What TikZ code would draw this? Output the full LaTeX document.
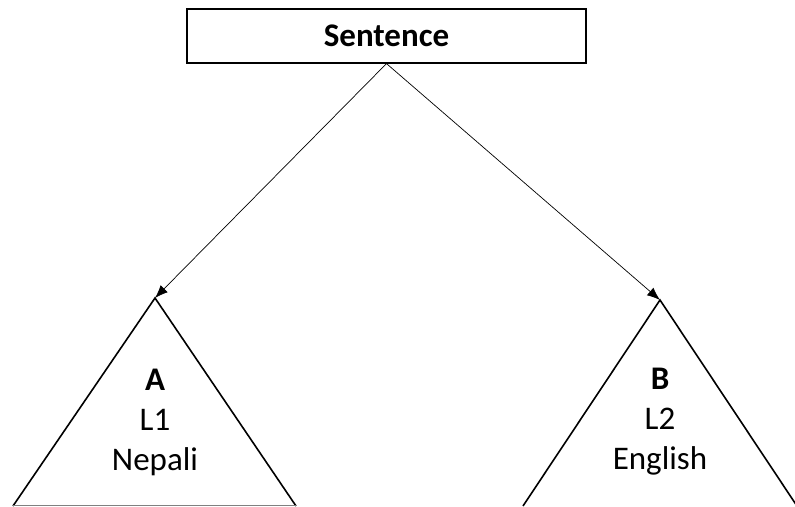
\documentclass[tikz,border=0pt]{standalone}
\usepackage{fontspec}
\setmainfont{Carlito}
\usetikzlibrary{arrows.meta,positioning}

\begin{document}
\begin{tikzpicture}[x=1pt, y=-1pt,
    header/.style={draw, line width=1.2pt, minimum width=399pt, minimum height=54pt,
                   inner sep=0pt, font=\fontsize{33}{40}\selectfont\bfseries},
    tri/.style={draw, line width=1.6pt, line join=miter},
    lang/.style={align=center, font=\fontsize{33}{40}\selectfont},
    arr/.style={-{Latex[length=13pt, width=10pt]}, line width=0.7pt}
]
    \useasboundingbox (0,0) rectangle (795,506);
    \node[header] (sent) at (386.5,36) {Sentence};
    % left tree
    \coordinate (topA) at (155,298);
    \draw[tri] (13,506) -- (topA) -- (296,506);
    \draw[gray, line width=1pt] (13,505.5) -- (296,505.5);
    \node[lang] (langA) at (155,422) {\textbf{A}\\L1\\Nepali};
    % right tree
    \coordinate (topB) at (660,300);
    \draw[tri] (523,506) -- (topB) -- (797,506);
    \node[lang] (langB) at (660,422) {\textbf{B}\\L2\\English};
    \draw[arr] (sent.south) -- (topA);
    \draw[arr] (sent.south) -- (topB);
\end{tikzpicture}
\end{document}
